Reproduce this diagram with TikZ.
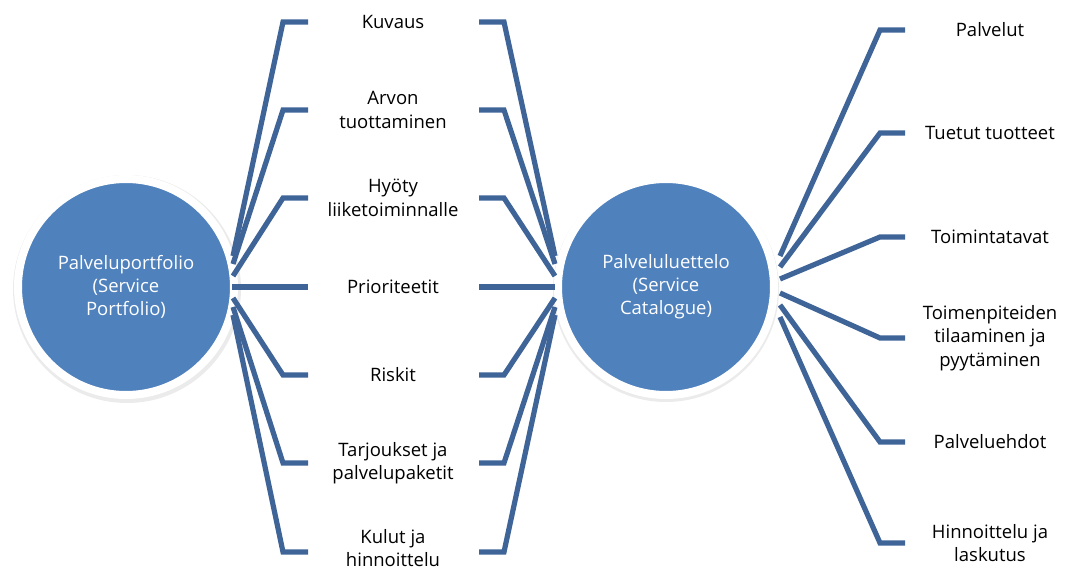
\documentclass[tikz,border=0pt]{standalone}
\usepackage{fontspec}
\setmainfont{Open Sans}
\begin{document}
\begin{tikzpicture}[x=1pt,y=-1pt,
  link/.style={draw=linkblue,line width=5.2pt,line join=miter},
  hub/.style={circle,fill=hubblue,draw=white,line width=8pt,minimum size=216pt,inner sep=0pt,text=white,align=center,font=\fontsize{18.5}{23}\selectfont},
  lbl/.style={align=center,text=black,font=\fontsize{18.5}{23.5}\selectfont,inner sep=0pt}]
\definecolor{linkblue}{HTML}{3F6497}
\definecolor{hubblue}{HTML}{4F81BD}
\useasboundingbox (0,0) rectangle (1069,572);
% shadows
\fill[black!8] (127,289) circle (114);
\fill[black!8] (666,289) circle (113);
\node[hub] (L) at (126,287) {Palveluportfolio\\(Service\\Portfolio)};
\node[hub] (R) at (666,287) {Palveluluettelo\\(Service\\Catalogue)};
% left labels
\foreach \n/\y/\ty/\t in {a/22/22/Kuvaus, b/110/110/{Arvon\\tuottaminen}, c/198/198/{Hyöty\\liiketoiminnalle}, d/287/287/Prioriteetit, e/375/375/Riskit, f/463/463/{Tarjoukset ja\\palvelupaketit}, g/552/548/{Kulut ja\\hinnoittelu}}{
  \node[lbl] (m\n) at (393,\ty) {\t};
  \coordinate (ml\n) at (308,\y);
  \coordinate (mcl\n) at (283,\y);
  \coordinate (mr\n) at (479,\y);
  \coordinate (mcr\n) at (504,\y);
}
\foreach \n/\y in {a/256,b/264,c/276,e/298,f/307,g/315}{
  \coordinate (sl\n) at (233,\y);
  \coordinate (sr\n) at (555,\y);
  \path[link] (sl\n) -- (mcl\n) -- (ml\n);
  \path[link] (sr\n) -- (mcr\n) -- (mr\n);
}
\coordinate (sld) at (232,287);
\coordinate (srd) at (555,287);
\path[link] (sld) -- (mld);
\path[link] (srd) -- (mrd);
% right labels
\foreach \n/\y/\sy/\t in {a/30/256/Palvelut, b/133/267/Tuetut tuotteet, c/237/279/Toimintatavat, d/338/293/{Toimenpiteiden\\tilaaminen ja\\pyytäminen}, e/442/305/Palveluehdot, f/543/317/{Hinnoittelu ja\\laskutus}}{
  \node[lbl] (r\n) at (990,\y) {\t};
  \coordinate (rl\n) at (905,\y);
  \coordinate (rc\n) at (880,\y);
  \coordinate (rs\n) at (780,\sy);
  \path[link] (rs\n) -- (rc\n) -- (rl\n);
}
\end{tikzpicture}
\end{document}
